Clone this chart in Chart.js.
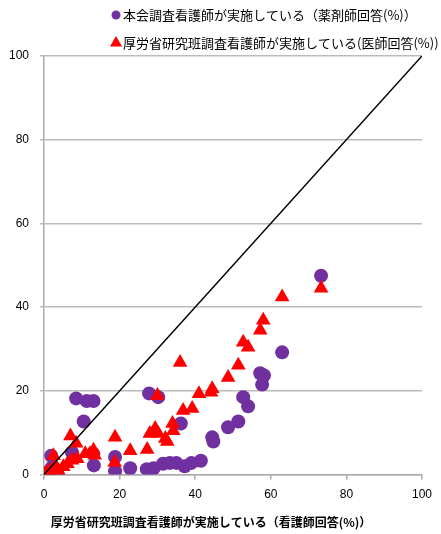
<!DOCTYPE html>
<html>
<head>
<meta charset="utf-8">
<script src="https://cdn.jsdelivr.net/npm/chart.js@4/dist/chart.umd.min.js"></script>
<style>
    html, body { margin: 0; padding: 0; background: #fff; }
    #wrap { width: 441px; height: 534px; }
</style>
</head>
<body>
<div id="wrap"><canvas id="scatterCanvas"></canvas></div>
<script>
const pharmLabel = "本会調査看護師が実施している（薬剤師回答(%)）";
const docLabel = "厚労省研究班調査看護師が実施している(医師回答(%))";
const xTitle = "厚労省研究班調査看護師が実施している（看護師回答(%)）";

// 薬剤師回答 (purple circles)
const pharmX = [73.3, 63, 57.2, 58.2, 57.7, 52.7, 54, 51.4, 48.7, 44.5, 44.8, 41.5,
    27.8, 30.2, 36.2, 22.8, 27.2, 29, 31.5, 33.3, 35, 37.2, 39,
    8.5, 11.3, 13.1, 10.5, 1.9, 2.1, 13, 13.2, 7.4, 18.8, 18.8, 3.5, 0.8];
const pharmY = [47.5, 29.2, 24.2, 23.7, 21.5, 18.5, 16.3, 12.7, 11.3, 8.9, 7.9, 3.3,
    19.4, 18.5, 12.2, 1.5, 1.3, 1.5, 2.6, 2.8, 2.8, 2.0, 2.8,
    18.2, 17.6, 17.6, 12.7, 4.5, 1.7, 5, 2.2, 5.3, 4.2, 0.8, 0.5, 0.5];

// 医師回答 (red triangles)
const docX = [73.3, 63, 58, 57.2, 52.7, 54, 51.4, 48.7, 44.5, 44.2, 41, 36,
    30, 36.8, 39.2, 34, 34.2, 29.4, 28, 30.2, 32.1, 32.6, 27.3, 22.8,
    18.8, 18.7, 13.1, 13.4, 12.2, 10.9, 8.8, 7.4, 6.2, 8.5, 7,
    2.5, 3, 5.1, 1.7, 3.8, 0.6];
const docY = [44.5, 42.4, 36.9, 34.5, 31.6, 30.4, 26.1, 23.2, 20.5, 19.7, 19.3, 26.8,
    18.9, 15.3, 15.8, 12.2, 10.5, 11, 9.8, 9.8, 8.6, 7.9, 6, 5.7,
    8.9, 2.9, 5.8, 4.6, 5, 5, 3.8, 3.4, 2.6, 7.5, 9.2,
    4.5, 2.2, 1.9, 1, 1, 0.5];

const refLineX = [0, 100];
const refLineY = [0, 100];
const axisTicks = [0, 20, 40, 60, 80, 100];

const PURPLE = "#7030A0";
const RED = "#FF0000";
const toPoints = (xs, ys) => xs.map((x, i) => ({ x: x, y: ys[i] }));

// legend drawn by hand so both rows start at the same left edge
const sideLegend = {
    id: "sideLegend",
    afterDraw(chart) {
        const ctx = chart.ctx;
        const rows = [
            { ds: chart.data.datasets[1], y: 15, style: "circle", r: 4.5 },
            { ds: chart.data.datasets[2], y: 43, style: "triangle", r: 7 },
        ];
        ctx.save();
        ctx.font = '13px "Noto Sans CJK JP", "Liberation Sans", sans-serif';
        ctx.textBaseline = "middle";
        rows.forEach((row) => {
            ctx.fillStyle = row.ds.backgroundColor;
            ctx.strokeStyle = row.ds.backgroundColor;
            Chart.helpers.drawPoint(ctx, {
                pointStyle: row.style,
                radius: row.r,
                borderWidth: 0,
            }, 116, row.y);
            ctx.fillStyle = "#000";
            ctx.fillText(row.ds.label, 123, row.y);
        });
        ctx.restore();
    },
};

new Chart(document.getElementById("scatterCanvas"), {
    type: "scatter",
    data: {
        datasets: [
            {
                type: "line",
                label: "y=x",
                data: toPoints(refLineX, refLineY),
                borderColor: "#000",
                borderWidth: 1.5,
                pointRadius: 0,
                fill: false,
                order: 0,
            },
            {
                label: pharmLabel,
                data: toPoints(pharmX, pharmY),
                backgroundColor: PURPLE,
                borderColor: PURPLE,
                borderWidth: 0,
                pointStyle: "circle",
                pointRadius: 7,
                order: 2,
            },
            {
                label: docLabel,
                data: toPoints(docX, docY),
                backgroundColor: RED,
                borderColor: RED,
                borderWidth: 0,
                pointStyle: "triangle",
                pointRadius: 8.5,
                order: 1,
            },
        ],
    },
    plugins: [sideLegend],
    options: {
        responsive: true,
        maintainAspectRatio: false,
        animation: false,
        layout: { padding: { top: 56, right: 19, left: 0, bottom: 0 } },
        scales: {
            x: {
                type: "linear",
                min: 0,
                max: 100,
                afterBuildTicks: (s) => { s.ticks = axisTicks.map((v) => ({ value: v })); },
                afterFit: (s) => { s.height = 36; },
                border: { color: "#aaaaaa", width: 1.5 },
                grid: { drawOnChartArea: false, color: "#aaaaaa", tickLength: 5, lineWidth: 1.5 },
                ticks: {
                    color: "#000",
                    padding: 8,
                    font: { family: '"Liberation Sans", Arial, sans-serif', size: 12 },
                },
            },
            y: {
                min: 0,
                max: 100,
                afterBuildTicks: (s) => { s.ticks = axisTicks.map((v) => ({ value: v })); },
                afterFit: (s) => { s.width = 44; },
                border: { color: "#aaaaaa", width: 1.5 },
                grid: { color: "#bbbbbb", tickLength: 4, lineWidth: 1.5 },
                ticks: {
                    color: "#000",
                    padding: 11,
                    font: { family: '"Liberation Sans", Arial, sans-serif', size: 12 },
                },
            },
        },
        plugins: {
            legend: { display: false },
            tooltip: { enabled: false },
            title: {
                display: true,
                position: "bottom",
                text: xTitle,
                color: "#000",
                font: { family: '"Noto Sans CJK JP", sans-serif', size: 12, weight: "bold" },
                padding: { top: 5, bottom: 4 },
            },
        },
    },
});
</script>
</body>
</html>
